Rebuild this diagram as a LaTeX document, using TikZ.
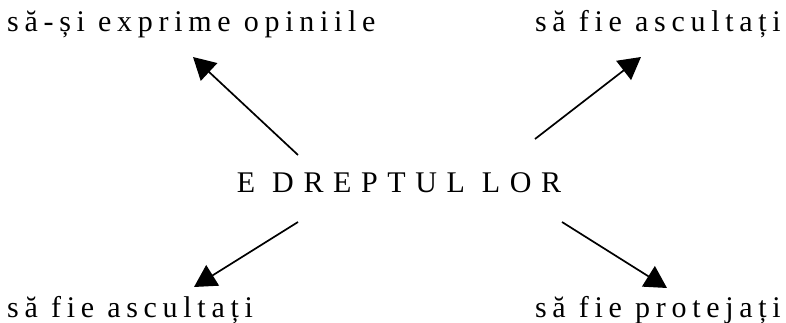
\documentclass[tikz,border=0pt]{standalone}
\usepackage{fontspec}
\usepackage{tikz}
\usetikzlibrary{arrows.meta}
\newfontfamily\lowfont[LetterSpace=19]{Liberation Serif}
\newfontfamily\capfont[LetterSpace=32]{Liberation Serif}
\tikzstyle{word node}=[inner sep=0pt, font=\lowfont\fontsize{30}{34}\selectfont]
\tikzstyle{title node}=[inner sep=0pt, font=\capfont\fontsize{30}{34}\selectfont]
\tikzstyle{arrow edge}=[draw=black, line width=1.7pt, -{Triangle[length=22pt, width=24pt]}]
\pgfdeclarelayer{nodelayer}
\pgfdeclarelayer{edgelayer}
\pgfsetlayers{nodelayer,edgelayer}

\begin{document}
\begin{tikzpicture}[x=1pt, y=-1pt]
	\useasboundingbox (0, 0) rectangle (786, 323);
	\begin{pgfonlayer}{nodelayer}
		\node [style=title node, anchor=base] (0) at (399, 192) {E DREPTUL LOR};
		\node [style=word node, anchor=base west] (1) at (7, 32) {să-și exprime opiniile};
		\node [style=word node, anchor=base east] (2) at (781, 32) {să fie ascultați};
		\node [style=word node, anchor=base west] (3) at (7, 317) {să fie ascultați};
		\node [style=word node, anchor=base east] (4) at (781, 317) {să fie protejați};
		\coordinate (5) at (298, 155);
		\coordinate (6) at (193, 57);
		\coordinate (7) at (535, 139);
		\coordinate (8) at (641, 57);
		\coordinate (9) at (298, 222);
		\coordinate (10) at (194, 287);
		\coordinate (11) at (562, 222);
		\coordinate (12) at (667, 288);
	\end{pgfonlayer}
	\begin{pgfonlayer}{edgelayer}
		\draw [style=arrow edge] (5) to (6);
		\draw [style=arrow edge] (7) to (8);
		\draw [style=arrow edge] (9) to (10);
		\draw [style=arrow edge] (11) to (12);
	\end{pgfonlayer}
\end{tikzpicture}
\end{document}
